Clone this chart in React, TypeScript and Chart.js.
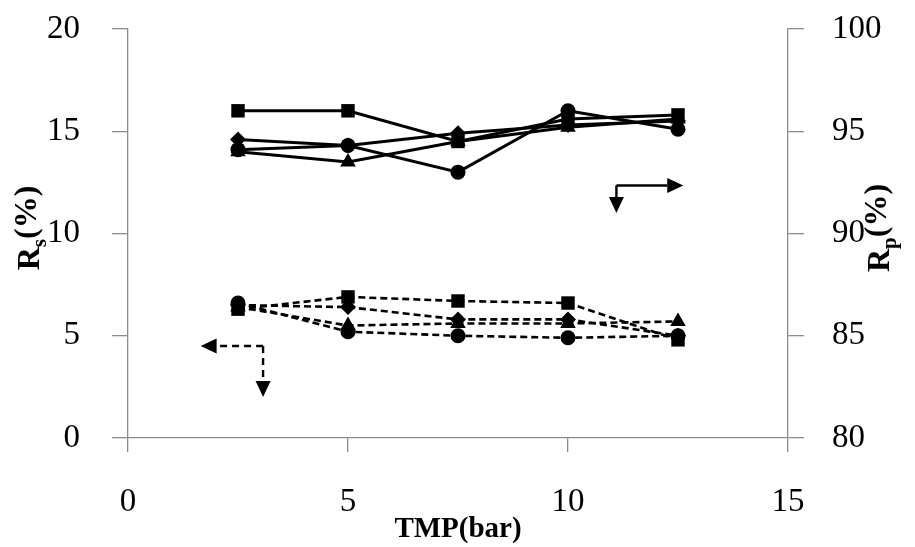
import React, { useEffect, useRef } from "react";
import { Chart, registerables } from "chart.js";

Chart.register(...registerables);

const tmp = [2.5, 5, 7.5, 10, 12.5];

// Rp (%) – solid lines, right axis
const rpSquare = [96.0, 96.0, 94.5, 95.6, 95.8];
const rpDiamond = [94.6, 94.3, 94.9, 95.3, 95.5];
const rpTriangle = [94.0, 93.5, 94.5, 95.2, 95.6];
const rpCircle = [94.1, 94.3, 93.0, 96.0, 95.1];

// Rs (%) – dashed lines, left axis
const rsSquare = [6.3, 6.9, 6.7, 6.6, 4.8];
const rsDiamond = [6.5, 6.4, 5.8, 5.8, 5.0];
const rsTriangle = [6.4, 5.5, 5.6, 5.6, 5.7];
const rsCircle = [6.6, 5.2, 5.0, 4.9, 5.0];

const xTicks = [0, 5, 10, 15];
const leftTicks = [0, 5, 10, 15, 20];
const rightTicks = [80, 85, 90, 95, 100];

const SERIF = "'Liberation Serif', 'DejaVu Serif', serif";
const AXIS_GRAY = "#8c8c8c";

function pts(ys: number[]) {
  return tmp.map((x, i) => ({ x, y: ys[i] }));
}

function mk(label: string, ys: number[], shape: string, axis: string, dashed: boolean) {
  const radius = shape === "rect" ? 9.5 : shape === "triangle" ? 9 : shape === "rectRot" ? 8 : 7.5;
  return {
    label,
    data: pts(ys),
    yAxisID: axis,
    borderColor: "#000",
    backgroundColor: "#000",
    borderWidth: dashed ? 2.6 : 3,
    borderDash: dashed ? [7, 4] : [],
    pointStyle: shape,
    pointRadius: radius,
    pointBorderWidth: 0,
    pointBackgroundColor: "#000",
    tension: 0,
    showLine: true,
  };
}

function drawArrow(ctx: CanvasRenderingContext2D, x1: number, y1: number, x2: number, y2: number, dashed: boolean) {
  const ang = Math.atan2(y2 - y1, x2 - x1);
  const head = 16;
  const hw = 7.5;
  const bx = x2 - head * Math.cos(ang);
  const by = y2 - head * Math.sin(ang);
  ctx.save();
  ctx.strokeStyle = "#000";
  ctx.fillStyle = "#000";
  ctx.lineWidth = 2.4;
  ctx.setLineDash(dashed ? [7, 5] : []);
  ctx.beginPath();
  ctx.moveTo(x1, y1);
  ctx.lineTo(bx, by);
  ctx.stroke();
  ctx.setLineDash([]);
  ctx.beginPath();
  ctx.moveTo(x2, y2);
  ctx.lineTo(bx + hw * Math.sin(ang), by - hw * Math.cos(ang));
  ctx.lineTo(bx - hw * Math.sin(ang), by + hw * Math.cos(ang));
  ctx.closePath();
  ctx.fill();
  ctx.restore();
}

function drawSubTitle(ctx: CanvasRenderingContext2D, cx: number, cy: number, main: string, sub: string, rest: string) {
  ctx.save();
  ctx.translate(cx, cy);
  ctx.rotate(-Math.PI / 2);
  ctx.fillStyle = "#000";
  ctx.textBaseline = "middle";
  const big = "bold 32px " + SERIF;
  const small = "bold 21px " + SERIF;
  ctx.font = big;
  const w1 = ctx.measureText(main).width;
  const w3 = ctx.measureText(rest).width;
  ctx.font = small;
  const w2 = ctx.measureText(sub).width;
  const total = w1 + w2 + w3;
  let x = -total / 2;
  ctx.font = big;
  ctx.fillText(main, x, 0);
  x += w1;
  ctx.font = small;
  ctx.fillText(sub, x, 10);
  x += w2;
  ctx.font = big;
  ctx.fillText(rest, x, -3);
  ctx.restore();
}

const overlayPlugin = {
  id: "overlay",
  afterDraw(chart: any) {
    const ctx = chart.ctx as CanvasRenderingContext2D;
    const xs = chart.scales.x;
    const yl = chart.scales.y;
    // Axis titles
    drawSubTitle(ctx, 31, 228, "R", "s", "(%)");
    drawSubTitle(ctx, 881, 228, "R", "p", "(%)");
    // Solid arrow (-> right axis)
    const sx = xs.getPixelForValue(11.1);
    const sy = yl.getPixelForValue(12.35);
    drawArrow(ctx, sx, sy, xs.getPixelForValue(12.62), sy, false);
    drawArrow(ctx, sx, sy, sx, yl.getPixelForValue(11.0), false);
    // Dashed arrow (-> left axis)
    const dx = xs.getPixelForValue(3.07);
    const dy = yl.getPixelForValue(4.5);
    drawArrow(ctx, dx, dy, xs.getPixelForValue(1.65), dy, true);
    drawArrow(ctx, dx, dy, dx, yl.getPixelForValue(2.0), true);
  },
};

function fixV(width: number) {
  return (s: any) => {
    s.width = width;
    s.paddingTop = 0;
    s.paddingBottom = 0;
  };
}

export default function App() {
  const ref = useRef<HTMLCanvasElement | null>(null);
  useEffect(() => {
    document.body.style.margin = "0";
    const canvas = ref.current;
    if (!canvas) return;
    const tickFont = { family: SERIF, size: 33 };
    const chart = new Chart(canvas, {
      type: "scatter",
      data: {
        datasets: [
          mk("Rp square", rpSquare, "rect", "y2", false),
          mk("Rp diamond", rpDiamond, "rectRot", "y2", false),
          mk("Rp triangle", rpTriangle, "triangle", "y2", false),
          mk("Rp circle", rpCircle, "circle", "y2", false),
          mk("Rs square", rsSquare, "rect", "y", true),
          mk("Rs diamond", rsDiamond, "rectRot", "y", true),
          mk("Rs triangle", rsTriangle, "triangle", "y", true),
          mk("Rs circle", rsCircle, "circle", "y", true),
        ] as any,
      },
      options: {
        animation: false,
        responsive: false,
        maintainAspectRatio: false,
        layout: { padding: { top: 29, left: 0, right: 0, bottom: 0 } },
        plugins: {
          legend: { display: false },
          tooltip: { enabled: false },
          title: { display: false },
        },
        scales: {
          x: {
            type: "linear",
            min: 0,
            max: 15,
            afterFit(s: any) {
              s.height = 109;
              s.paddingLeft = 0;
              s.paddingRight = 0;
            },
            afterBuildTicks(s: any) {
              s.ticks = xTicks.map((v) => ({ value: v }));
            },
            grid: { drawOnChartArea: false, drawTicks: true, tickLength: 14, color: AXIS_GRAY, lineWidth: 1.3 },
            border: { display: true, color: AXIS_GRAY, width: 1.3 },
            ticks: { color: "#000", font: tickFont, padding: 31, maxRotation: 0 },
            title: {
              display: true,
              text: "TMP(bar)",
              color: "#000",
              font: { family: SERIF, size: 29, weight: "bold" },
              padding: { top: -14, bottom: 0 },
            },
          },
          y: {
            type: "linear",
            position: "left",
            min: 0,
            max: 20,
            afterFit: fixV(128),
            afterBuildTicks(s: any) {
              s.ticks = leftTicks.map((v) => ({ value: v }));
            },
            grid: { drawOnChartArea: false, drawTicks: true, tickLength: 16, color: AXIS_GRAY, lineWidth: 1.3 },
            border: { display: true, color: AXIS_GRAY, width: 1.3 },
            ticks: { color: "#000", font: tickFont, padding: 32 },
          },
          y2: {
            type: "linear",
            position: "right",
            min: 80,
            max: 100,
            afterFit: fixV(127),
            afterBuildTicks(s: any) {
              s.ticks = rightTicks.map((v) => ({ value: v }));
            },
            grid: { drawOnChartArea: false, drawTicks: true, tickLength: 16, color: AXIS_GRAY, lineWidth: 1.3 },
            border: { display: true, color: AXIS_GRAY, width: 1.3 },
            ticks: { color: "#000", font: tickFont, padding: 28 },
          },
        },
      } as any,
      plugins: [overlayPlugin],
    });
    return () => chart.destroy();
  }, []);
  return (
    <div style={{ position: "absolute", left: 0, top: 0, width: 915, height: 547, background: "#fff" }}>
      <canvas ref={ref} width={915} height={547} style={{ width: 915, height: 547, display: "block" }} />
    </div>
  );
}
